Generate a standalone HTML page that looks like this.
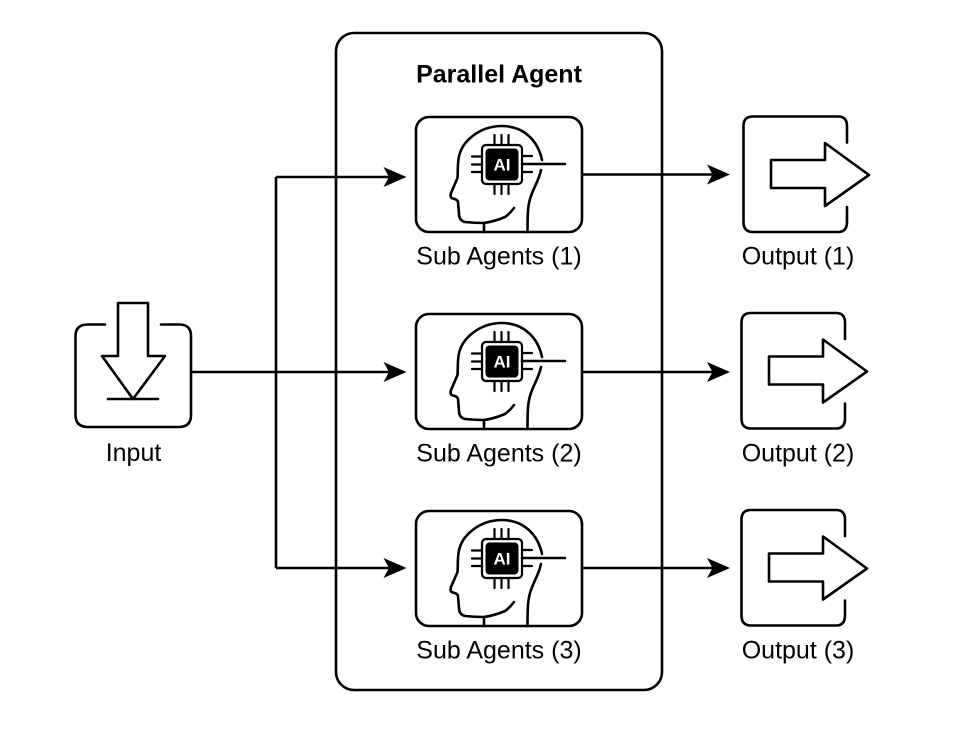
<!DOCTYPE html>
<html><head><meta charset="utf-8"><style>
html,body{margin:0;padding:0;background:#fff}
svg{display:block}
text{font-family:"Liberation Sans",Arial,sans-serif;fill:#000;text-anchor:middle}
.l{font-size:25px}
.s{fill:none;stroke:#000;stroke-width:2.6;stroke-linejoin:round;stroke-linecap:round}
.c{fill:none;stroke:#000;stroke-width:2.6}
.ai{font-size:17px;font-weight:bold;fill:#fff}
</style></head><body>
<svg width="978" height="754" viewBox="0 0 978 754" xmlns="http://www.w3.org/2000/svg">
<defs>
<g id="agent">
<rect class="s" x="416" y="117" width="166" height="115" rx="13"/>
<path class="s" d="M484 232V223C476 223 470 222.500 465 222C461 221 459 218 459 214L458 202C457.500 199 454 199 451.500 198C450 196.500 450.500 195 451 193L457.500 178C458 172 457.500 166 458.500 159C461 141 480 126 502 126C524 126 538 141 542 160M541 170C539 180 534 187 531 196C528 204 527.500 212 527.500 232"/>
<path class="s" d="M514 208C511 212 508 215 505 217C498 220 491 222 484 223"/>
<rect class="s" x="482" y="145" width="40" height="39" rx="4" style="stroke-width:2.2"/>
<rect x="485.500" y="148.500" width="33" height="32" rx="4" fill="#000"/>
<path class="s" style="stroke-width:2.2" d="M494.500 135V145M501.500 135V145M508.500 135V145M494.500 184V194M501.500 184V194M508.500 184V194M472 156.500H482M472 164.500H482M472 172H482M522 156H532M522 172H532"/>
<path class="s" d="M522 164H565"/>
</g>
<g id="output">
<path class="s" d="M847 142.500V126Q847 116.500 838 116.500H753Q743.500 116.500 743.500 126V222Q743.500 232 753 232H838Q847 232 847 222V207"/>
<path class="s" d="M771 160H825V143L869 175L825 206V188H771Z"/>
</g>
<path id="ah" d="M0 0L-23 -10L-17.500 0L-23 10Z" fill="#000"/>
</defs>

<rect class="s" x="336" y="33" width="326" height="657" rx="18"/>
<text x="499" y="82.500" style="font-size:25px;font-weight:bold">Parallel Agent</text>

<!-- Input -->
<path class="s" d="M105 324.500H88Q75.500 324.500 75.500 336V415Q75.500 427 88 427H179Q191 427 191 415V336Q191 324.500 179 324.500H161"/>
<path class="s" d="M118 303H148V356H165L133 399L102 356H118Z"/>
<path class="s" d="M108 399H158"/>
<text class="l" x="133.500" y="461">Input</text>

<!-- Connectors -->
<path class="c" d="M191 372H390M276 177V568M276 177H390M276 568H390"/>
<use href="#ah" transform="translate(406.500,177)"/>
<use href="#ah" transform="translate(406.500,372)"/>
<use href="#ah" transform="translate(406.500,568)"/>
<path class="c" d="M582 174.500H715M582 372H715M582 568H715"/>
<use href="#ah" transform="translate(730,174.500)"/>
<use href="#ah" transform="translate(730,372)"/>
<use href="#ah" transform="translate(730,568)"/>

<!-- Agents -->
<use href="#agent"/>
<text class="ai" x="502" y="170.500">AI</text>
<text class="l" x="499" y="264.500">Sub Agents (1)</text>
<use href="#agent" transform="translate(0,197)"/>
<text class="ai" x="502" y="367.500">AI</text>
<text class="l" x="499" y="461.500">Sub Agents (2)</text>
<use href="#agent" transform="translate(0,394)"/>
<text class="ai" x="502" y="564.500">AI</text>
<text class="l" x="499" y="658.500">Sub Agents (3)</text>

<!-- Outputs -->
<use href="#output"/>
<text class="l" x="798" y="264.500">Output (1)</text>
<use href="#output" transform="translate(-2,196.500)"/>
<text class="l" x="798" y="461.500">Output (2)</text>
<use href="#output" transform="translate(-2,393.500)"/>
<text class="l" x="798" y="658.500">Output (3)</text>
</svg>
</body></html>
